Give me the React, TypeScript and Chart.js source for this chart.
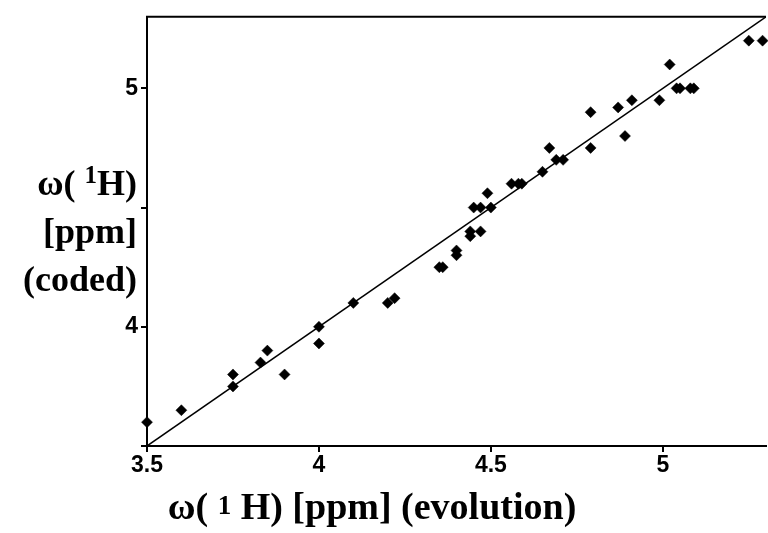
import { useEffect, useRef } from "react";
import { Chart, registerables } from "chart.js";

Chart.register(...registerables);

// ω(1H) evolution-dimension shift [ppm]
const evolution = [
  3.5, 3.6, 3.75, 3.75, 3.83, 3.85, 3.9,
  4.0, 4.0, 4.1, 4.2, 4.22,
  4.35, 4.36, 4.4, 4.4, 4.44, 4.44, 4.47,
  4.45, 4.47, 4.5, 4.49,
  4.56, 4.58, 4.59, 4.65, 4.67, 4.69, 4.71,
  4.79, 4.79, 4.87, 4.91, 4.89, 4.99,
  5.02, 5.04, 5.05, 5.08, 5.09,
  5.25, 5.29,
];
// ω(1H) coded shift [ppm]
const coded = [
  3.6, 3.65, 3.8, 3.75, 3.85, 3.9, 3.8,
  4.0, 3.93, 4.1, 4.1, 4.12,
  4.25, 4.25, 4.32, 4.3, 4.4, 4.38, 4.4,
  4.5, 4.5, 4.5, 4.56,
  4.6, 4.6, 4.6, 4.65, 4.75, 4.7, 4.7,
  4.9, 4.75, 4.92, 4.95, 4.8, 4.95,
  5.1, 5.0, 5.0, 5.0, 5.0,
  5.2, 5.2,
];
const identityLine = [3.5, 5.3];
const xTickLabels = [3.5, 4, 4.5, 5];
const yTickLabels = [4, 5];
const xTitleParts = ["ω( ", "1", " H) [ppm] (evolution)"];
const yTitleLines = [["ω( ", "1", "H)"], ["[ppm]"], ["(coded)"]];

const SERIF = '"Liberation Serif", "Times New Roman", serif';

type Part = { t: string; f: string; dy: number };

function drawRich(ctx: CanvasRenderingContext2D, parts: Part[], x: number, y: number, align: "center" | "right") {
  let total = 0;
  const widths = parts.map((p) => {
    ctx.font = p.f;
    const w = ctx.measureText(p.t).width;
    total += w;
    return w;
  });
  let cx = align === "center" ? x - total / 2 : x - total;
  ctx.textAlign = "left";
  ctx.textBaseline = "alphabetic";
  parts.forEach((p, i) => {
    ctx.font = p.f;
    ctx.fillText(p.t, cx, y + p.dy);
    cx += widths[i];
  });
}

const decorPlugin = {
  id: "decor",
  afterDraw(chart: any) {
    const ctx: CanvasRenderingContext2D = chart.ctx;
    const { top, left, right } = chart.chartArea;
    ctx.save();
    ctx.strokeStyle = "#000";
    ctx.lineWidth = 2;
    ctx.beginPath();
    ctx.moveTo(left - 1, top);
    ctx.lineTo(right, top);
    ctx.stroke();

    ctx.fillStyle = "#000";
    const bigX = `bold 38px ${SERIF}`;
    const supX = `bold 27px ${SERIF}`;
    drawRich(
      ctx,
      [
        { t: xTitleParts[0], f: bigX, dy: 0 },
        { t: xTitleParts[1], f: supX, dy: -5 },
        { t: xTitleParts[2], f: bigX, dy: 0 },
      ],
      372,
      519,
      "center"
    );
    const big = `bold 36px ${SERIF}`;
    const sup = `bold 25px ${SERIF}`;
    const baselines = [195, 243, 291];
    yTitleLines.forEach((line, i) => {
      const parts: Part[] =
        line.length === 3
          ? [
              { t: line[0], f: big, dy: 0 },
              { t: line[1], f: sup, dy: -12 },
              { t: line[2], f: big, dy: 0 },
            ]
          : [{ t: line[0], f: big, dy: 0 }];
      drawRich(ctx, parts, 137, baselines[i], "right");
    });
    ctx.restore();
  },
};

export default function App() {
  const ref = useRef<HTMLCanvasElement | null>(null);

  useEffect(() => {
    if (!ref.current) return;
    const tickFont = { family: '"Liberation Sans", Arial, sans-serif', size: 23, weight: "bold" as const };
    const chart = new Chart(ref.current, {
      data: {
        datasets: [
          {
            type: "line",
            data: identityLine.map((v) => ({ x: v, y: v })),
            borderColor: "#000",
            borderWidth: 1.5,
            pointRadius: 0,
            fill: false,
          },
          {
            type: "scatter",
            data: evolution.map((x, i) => ({ x, y: coded[i] })),
            pointStyle: "rectRot",
            pointRadius: 5.5,
            backgroundColor: "#000",
            borderColor: "#000",
            borderWidth: 0.5,
            clip: false,
          } as any,
        ],
      },
      options: {
        animation: false,
        responsive: false,
        devicePixelRatio: 1,
        layout: { padding: { top: 16, right: 0, left: 0, bottom: 0 } },
        plugins: { legend: { display: false }, tooltip: { enabled: false } },
        scales: {
          x: {
            type: "linear",
            position: "bottom",
            min: 3.5,
            max: 5.3,
            ticks: {
              stepSize: 0.5,
              includeBounds: false,
              color: "#000",
              font: tickFont,
              padding: 0,
              maxRotation: 0,
              callback: (v: any) => (xTickLabels.includes(Number(v)) ? String(v) : ""),
            },
            grid: { drawOnChartArea: false, drawTicks: true, tickLength: 6, color: "#000", lineWidth: 2 },
            border: { display: true, color: "#000", width: 2 },
            afterFit: (s: any) => {
              s.height = 87;
            },
          },
          y: {
            type: "linear",
            min: 3.5,
            max: 5.3,
            ticks: {
              stepSize: 0.5,
              includeBounds: false,
              color: "#000",
              font: tickFont,
              padding: 3,
              callback: (v: any) => (yTickLabels.includes(Number(v)) ? String(v) : ""),
            },
            grid: { drawOnChartArea: false, drawTicks: true, tickLength: 6, color: "#000", lineWidth: 2 },
            border: { display: true, color: "#000", width: 2 },
            afterFit: (s: any) => {
              s.width = 147;
            },
          },
        },
      },
      plugins: [decorPlugin],
    });
    return () => chart.destroy();
  }, []);

  return (
    <div style={{ position: "fixed", left: 0, top: 0, width: 768, height: 533, overflow: "hidden", background: "#fff" }}>
      <canvas ref={ref} width={772} height={533} style={{ display: "block", width: 772, height: 533 }} />
    </div>
  );
}
